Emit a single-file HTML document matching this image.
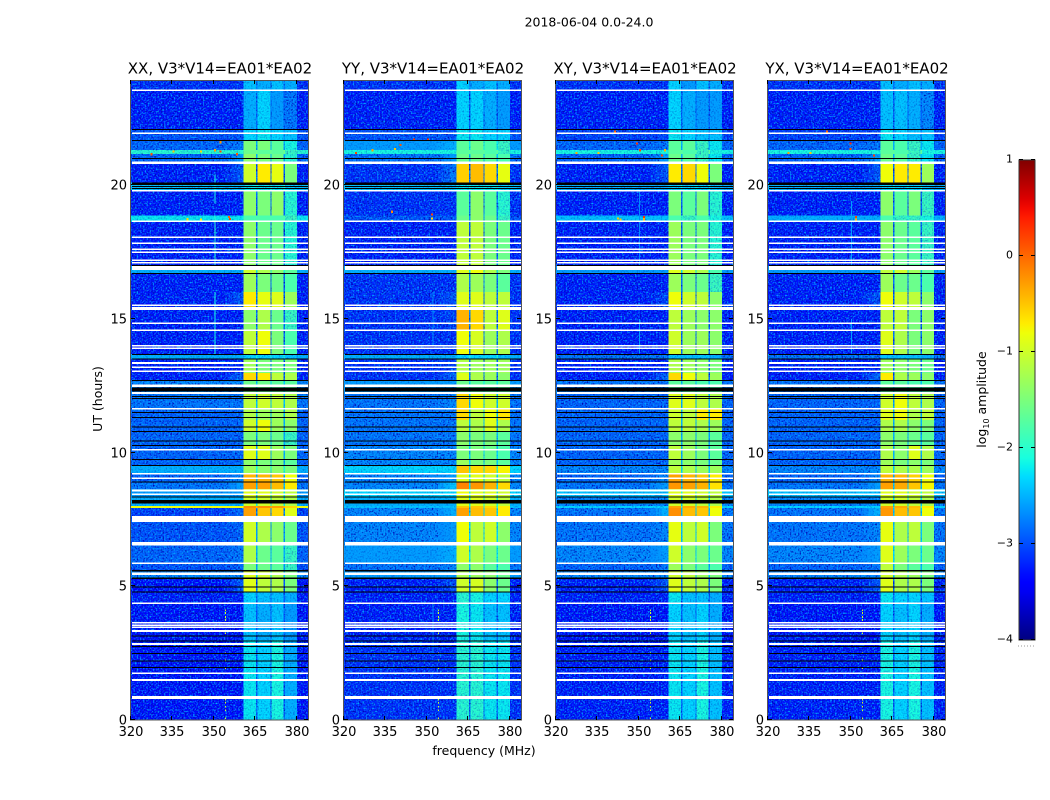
<!DOCTYPE html>
<html lang="en">
<head>
<meta charset="utf-8">
<title>2018-06-04 spectrogram</title>
<style>
html,body{margin:0;padding:0;background:#fff;}
svg{display:block;}
text{font-family:"DejaVu Sans","Liberation Sans",sans-serif;fill:#000;}
</style>
</head>
<body>
<svg id="chart" xmlns="http://www.w3.org/2000/svg" width="1050" height="800" viewBox="0 0 1050 800">
  <defs>
    <!-- Decorative film grain only: it does not encode any data value. Cell colours come from the arrays in the script. -->
    <filter id="grain-dark" x="0" y="0" width="100%" height="100%" color-interpolation-filters="sRGB">
      <feTurbulence type="fractalNoise" baseFrequency="0.62" numOctaves="1" seed="4"/>
      <feColorMatrix type="matrix" values="0 0 0 0 0  0 0 0 0 0  0 0 0 0 0.68  3.2 0 0 0 -1.5"/>
    </filter>
    <filter id="grain-light" x="0" y="0" width="100%" height="100%" color-interpolation-filters="sRGB">
      <feTurbulence type="fractalNoise" baseFrequency="0.62" numOctaves="1" seed="11"/>
      <feColorMatrix type="matrix" values="0 0 0 0 0  0 0 0 0 0.66  0 0 0 0 1  0 3.2 0 0 -1.5"/>
    </filter>
    <linearGradient id="jet-gradient" x1="0" y1="1" x2="0" y2="0"></linearGradient>
  </defs>
  <text x="589" y="26.5" font-size="12.5" text-anchor="middle">2018-06-04 0.0-24.0</text>
  <text x="484" y="755" font-size="12.5" text-anchor="middle">frequency (MHz)</text>
  <text x="102" y="399" font-size="12.5" text-anchor="middle" transform="rotate(-90 102 399)">UT (hours)</text>
  <text x="986" y="399.5" font-size="12.5" text-anchor="middle" transform="rotate(-90 986 399.5)">log<tspan font-size="8" dy="3">10</tspan><tspan dy="-3"> amplitude</tspan></text>
</svg>
<script>
// ---- Categories and tick labels ----
const panelTitles = ["XX, V3*V14=EA01*EA02", "YY, V3*V14=EA01*EA02", "XY, V3*V14=EA01*EA02", "YX, V3*V14=EA01*EA02"];
const frequencyTicks = [320, 335, 350, 365, 380];
const timeTicks = [0, 5, 10, 15, 20];
const colorbarTicks = [-4, -3, -2, -1, 0, 1];

// Frequency column edges, MHz: background, shoulder (3 steps), band 1, gap, band 2, gap, band 3, gap, band 4, upper
const frequencyEdges = [320, 354, 356.2, 358.4, 360.6, 365.2, 365.8, 370.4, 370.8, 375.1, 375.6, 380, 384];

// Time row edges, hours UT (top to bottom)
const timeEdges = [23.93, 23.51, 22.09, 21.68, 21.31, 21.16, 20.79, 20.09, 19.81, 18.86, 18.62, 16.97, 16.71, 16, 15.33, 14.58, 13.68, 13.5, 12.97, 12.71, 12.19, 11.66, 11.21, 10.77, 10.24, 9.72, 9.5, 9.23, 8.9, 8.64, 8.34, 8, 7.92, 7.63, 7.4, 6.54, 5.87, 5.61, 5.31, 4.79, 4.37, 2.99, 0];

// log10 amplitude per time row: [background, shoulder, band1, band2, band3, band4]
const levelsXX = [
[-3.2,-3.2,-2.4,-2.5,-2.4,-2.5],[-3.3,-3.3,-2.5,-2.3,-2.6,-2.8],[-3,-3,-2.3,-2.2,-2.3,-2.4],[-2.9,-2.8,-1.5,-1.5,-1.7,-2.1],
[-2,-2,-1.6,-1.7,-1.7,-1.9],[-2.9,-2.6,-1.4,-1.5,-1.6,-2],[-3.3,-3,-1,-0.7,-0.85,-1.5],[-2.4,-2.4,-2.2,-2.2,-2.2,-2.3],
[-3.3,-3.3,-1.4,-1.5,-1.4,-2],[-2.2,-2.2,-1.8,-1.8,-1.8,-1.9],[-3.3,-3.3,-1.4,-1.6,-1.6,-2],[-2.5,-2.5,-1,-1.2,-1.4,-1.7],
[-3.3,-3.3,-1.3,-1.5,-1.6,-1.8],[-3.3,-3,-0.7,-0.85,-0.9,-1.3],[-3.3,-3.3,-1.4,-1.2,-1.6,-1.9],[-3.3,-3.3,-1.1,-0.8,-1.5,-1.8],
[-2.5,-2.5,-2.3,-2.3,-2.3,-2.4],[-3.3,-3.3,-1.3,-1.5,-1.5,-1.5],[-3.3,-2.9,-0.6,-0.7,-1.1,-1.2],[-2.7,-2.7,-1.6,-1.6,-1.7,-1.7],
[-2.8,-2.8,-1.1,-1,-1.1,-1.2],[-2.9,-2.9,-1.2,-1.3,-1.3,-1.2],[-2.9,-2.9,-1,-0.8,-1.3,-1.4],[-2.9,-2.9,-1.5,-1.5,-1.6,-1.9],
[-2.9,-2.9,-0.9,-0.9,-1.3,-1.5],[-2.9,-2.9,-1.4,-1.5,-1.5,-1.7],[-2.5,-2.5,-1.3,-1.4,-1.4,-1.5],[-2.9,-2.7,-0.4,-0.4,-0.5,-0.8],
[-2.8,-2.6,-0.3,-0.3,-0.45,-0.7],[-2.6,-2.6,-0.9,-0.9,-1,-1.1],[-2.5,-2.5,-1,-1,-1.1,-1.2],[-0.8,-0.8,-0.2,-0.2,-0.3,-0.6],
[-3.1,-2.9,-0.3,-0.5,-0.6,-0.9],[-3,-3,-1,-1,-1.2,-1.4],[-3,-2.9,-1,-1.2,-1.4,-1.6],[-2.9,-2.8,-1.2,-1.6,-1.7,-1.9],
[-3,-2.9,-1.5,-1.6,-1.7,-1.9],[-2.7,-2.7,-0.9,-1,-1.2,-1.5],[-3.4,-3,-0.9,-1.1,-1.2,-1.5],[-3.3,-3.3,-2.3,-2.4,-2.4,-2.5],
[-3.35,-3.35,-2.4,-2.5,-2.4,-2.6],[-3.35,-3.35,-2.2,-2.3,-2.1,-2.5]];
const levelsYY = [
[-3.2,-3.2,-2.3,-2.5,-2.4,-2.5],[-3.3,-3.3,-2.3,-2.3,-2.5,-2.6],[-3,-3,-2.2,-2.2,-2.3,-2.3],[-2.6,-2.5,-1.7,-1.6,-1.8,-1.9],
[-2.1,-2.1,-1.7,-1.7,-1.8,-1.9],[-2.8,-2.6,-1.6,-1.6,-1.7,-1.8],[-3.2,-2.8,-0.55,-0.45,-0.6,-0.85],[-2.4,-2.4,-2.2,-2.2,-2.2,-2.3],
[-3.2,-3.2,-1.7,-1.4,-1.7,-2],[-3,-3,-1.6,-1.4,-1.6,-1.9],[-3.3,-3.3,-1.1,-1.1,-1.5,-1.6],[-2.5,-2.5,-0.9,-0.8,-1.2,-1.5],
[-3.2,-3.2,-1.2,-1.3,-1.5,-1.7],[-3.2,-3,-0.9,-0.9,-1.1,-1.1],[-3.2,-3.1,-0.4,-0.6,-1.1,-0.9],[-3.2,-3.2,-0.8,-0.95,-1.3,-1.2],
[-2.5,-2.5,-2.3,-2.3,-2.3,-2.4],[-3.2,-3.1,-1.2,-1.3,-1.3,-1.3],[-3.2,-2.9,-0.9,-1.2,-1.3,-1.4],[-2.6,-2.6,-1.6,-1.7,-1.7,-1.7],
[-2.8,-2.7,-0.6,-0.8,-1,-1],[-2.8,-2.8,-0.6,-1.1,-0.8,-0.65],[-2.8,-2.8,-1.1,-1.2,-0.9,-1.2],[-2.8,-2.8,-1.4,-1.5,-1.5,-1.7],
[-2.7,-2.7,-1.5,-1.5,-1.6,-1.8],[-2.7,-2.7,-1.3,-1.5,-1.5,-1.7],[-2.3,-2.3,-0.5,-0.6,-0.6,-0.75],[-2.7,-2.6,-0.9,-0.9,-1,-1.1],
[-2.7,-2.4,-0.15,-0.25,-0.4,-0.6],[-2.3,-2.3,-0.8,-0.9,-0.9,-1],[-2.5,-2.5,-0.9,-0.9,-1,-1.1],[-2.4,-2.4,-0.5,-0.5,-0.6,-0.7],
[-2.7,-2.5,-0.3,-0.45,-0.5,-0.7],[-2.7,-2.6,-1,-1,-1.1,-1.3],[-2.7,-2.6,-0.8,-1.1,-1,-1.4],[-2.6,-2.5,-1,-1.2,-1.5,-1.6],
[-2.8,-2.7,-1.4,-1.4,-1.7,-1.8],[-2.6,-2.6,-1.2,-1.3,-1.4,-1.6],[-3.3,-3,-1,-0.95,-1.4,-1.6],[-3.3,-3.3,-2,-2.1,-2.3,-2.3],
[-3.3,-3.3,-2.1,-2.2,-2.4,-2.4],[-3.2,-3.2,-2,-2,-2.2,-2.2]];
const levelsXY = [
[-3.2,-3.2,-2.3,-2.6,-2.4,-2.5],[-3.3,-3.3,-2.3,-2.5,-2.6,-2.6],[-3.1,-3.1,-2.2,-2.3,-2.4,-2.4],[-2.9,-2.8,-1.7,-1.7,-1.9,-2.2],
[-2.1,-2.1,-1.7,-1.8,-1.9,-2.1],[-2.9,-2.6,-1.6,-1.7,-1.9,-2.2],[-3.3,-3,-0.7,-0.6,-0.8,-1.5],[-2.5,-2.5,-2.3,-2.3,-2.3,-2.4],
[-3.3,-3.3,-1.5,-1.7,-1.5,-2],[-2.4,-2.4,-1.8,-1.9,-1.8,-2.1],[-3.3,-3.3,-1.3,-1.5,-1.5,-2],[-2.6,-2.6,-0.9,-1,-1.2,-1.8],
[-3.3,-3.3,-1.3,-1.5,-1.6,-1.9],[-3.3,-3.1,-0.8,-1,-1.1,-1.4],[-3.3,-3.3,-1.1,-1.3,-1.4,-1.4],[-3.3,-3.3,-1,-1.3,-1.3,-1.4],
[-2.8,-2.8,-2.4,-2.4,-2.4,-2.5],[-3.3,-3.3,-1.2,-1.3,-1.4,-1.5],[-3.3,-2.9,-0.6,-0.8,-1.1,-1.3],[-2.8,-2.8,-1.7,-1.7,-1.8,-1.8],
[-2.9,-2.9,-0.9,-0.9,-1.1,-1.2],[-2.9,-2.9,-1,-1.1,-0.7,-0.7],[-2.9,-2.9,-1.1,-1.1,-1.2,-1.3],[-2.9,-2.9,-1.4,-1.4,-1.5,-1.7],
[-2.9,-2.9,-1.1,-1.3,-1.5,-1.7],[-2.9,-2.9,-1.3,-1.4,-1.5,-1.6],[-2.7,-2.7,-1.1,-1.2,-1.3,-1.3],[-2.9,-2.7,-0.3,-0.4,-0.5,-0.7],
[-2.8,-2.6,-0.25,-0.3,-0.4,-0.65],[-2.4,-2.4,-0.9,-0.9,-1,-1.1],[-2.7,-2.7,-1,-1,-1.1,-1.2],[-2.3,-2.3,-0.3,-0.35,-0.4,-0.7],
[-2.8,-2.5,-0.2,-0.45,-0.5,-0.8],[-2.8,-2.7,-1,-1,-1.1,-1.3],[-2.8,-2.7,-0.85,-1.1,-1,-1.5],[-2.7,-2.6,-1,-1.4,-1.5,-1.6],
[-2.9,-2.8,-1.3,-1.5,-1.7,-1.8],[-2.7,-2.7,-1,-1.1,-1.3,-1.5],[-3.3,-3,-0.9,-1.1,-1.2,-1.5],[-3.3,-3.3,-2.2,-2.4,-2.4,-2.5],
[-3.35,-3.35,-2.3,-2.4,-2.3,-2.5],[-3.3,-3.3,-2.2,-2.3,-2.1,-2.4]];
const levelsYX = [
[-3.2,-3.2,-2.4,-2.5,-2.4,-2.5],[-3.3,-3.3,-2.4,-2.4,-2.5,-2.7],[-3.1,-3.1,-2.2,-2.3,-2.4,-2.4],[-2.9,-2.8,-1.7,-1.8,-1.9,-2.2],
[-2.1,-2.1,-1.7,-1.8,-1.9,-2.1],[-2.9,-2.6,-1.6,-1.7,-1.9,-2.2],[-3.3,-3,-0.8,-0.7,-0.7,-1.3],[-2.5,-2.5,-2.3,-2.3,-2.3,-2.4],
[-3.3,-3.3,-1.4,-1.7,-1.5,-1.9],[-2.5,-2.5,-1.8,-1.9,-1.9,-2.1],[-3.3,-3.3,-1.4,-1.6,-1.7,-1.9],[-2.6,-2.6,-1.1,-1,-1.3,-1.7],
[-3.3,-3.3,-1.3,-1.6,-1.6,-1.8],[-3.3,-3,-0.8,-1,-1.1,-1.4],[-3.3,-3.3,-1.1,-1.1,-1.5,-1.4],[-3.3,-3.3,-0.9,-1.2,-1.5,-1.4],
[-2.8,-2.8,-2.4,-2.4,-2.4,-2.5],[-3.3,-3.3,-1.3,-1.4,-1.5,-1.6],[-3.3,-2.9,-0.7,-1.2,-1.3,-1.4],[-2.8,-2.8,-1.7,-1.7,-1.8,-1.8],
[-2.9,-2.9,-1,-0.8,-1.1,-1.2],[-2.9,-2.9,-0.9,-0.8,-1.2,-1.1],[-2.9,-2.9,-1.2,-1.2,-1.4,-1.5],[-2.9,-2.9,-1.4,-1.5,-1.6,-1.7],
[-2.9,-2.9,-1.2,-1.4,-0.9,-1.2],[-2.9,-2.9,-1.3,-1.5,-1.4,-1.5],[-2.7,-2.7,-1.1,-1.2,-1.2,-1.3],[-2.9,-2.7,-0.4,-0.4,-0.55,-0.8],
[-2.8,-2.6,-0.3,-0.35,-0.5,-0.75],[-2.4,-2.4,-0.9,-0.9,-1,-1.1],[-2.7,-2.7,-1,-1,-1.1,-1.2],[-2.3,-2.3,-0.3,-0.35,-0.45,-0.7],
[-2.8,-2.5,-0.25,-0.45,-0.5,-0.8],[-2.8,-2.7,-1,-1,-1.1,-1.3],[-2.8,-2.7,-0.85,-1.2,-1.1,-1.5],[-2.7,-2.6,-0.9,-1.3,-1.5,-1.6],
[-2.9,-2.8,-1.1,-1.5,-1.7,-1.8],[-2.7,-2.7,-1,-1.2,-1.3,-1.5],[-3.3,-3,-0.9,-1.2,-1.2,-1.5],[-3.3,-3.3,-2.2,-2.3,-2.3,-2.4],
[-3.35,-3.35,-2.3,-2.4,-2.3,-2.5],[-3.3,-3.3,-2.1,-2.3,-2.1,-2.4]];

// Rows with no data, [start, end] in hours, shared by all four panels
const whiteRows = [[23.57,23.51],[21.96,21.9],[20.88,20.79],[19.81,19.76],[18.67,18.62],[18.07,18.02],[17.85,17.79],[17.63,17.57],[17.51,17.46],[17.21,17.16],[17.12,17.07],[16.97,16.82],[15.53,15.48],[15.44,15.33],[14.86,14.8],[14.6,14.54],[14.02,13.96],[13.93,13.87],[13.38,13.31],[13.21,13.16],[13.07,13.01],[12.54,12.45],[12.26,12.19],[11.66,11.61],[10.13,10.07],[9.23,9.18],[9.07,9.01],[8.62,8.54],[8.47,8.41],[7.63,7.4],[6.65,6.52],[5.89,5.83],[5.51,5.42],[4.39,4.34],[3.66,3.61],[3.57,3.51],[3.5,3.44],[3.36,3.29],[2.88,2.8],[1.78,1.72],[1.53,1.46],[0.9,0.79]];
const blackRows = [[22.09,22.06],[21.68,21.64],[21.01,20.97],[20.09,20],[19.96,19.93],[19.89,19.85],[17.01,16.97],[16.71,16.67],[13.68,13.64],[13.51,13.48],[12.71,12.67],[12.43,12.28],[12.11,12.07],[12.04,12],[11.51,11.48],[11.33,11.29],[10.97,10.93],[10.8,10.77],[10.45,10.41],[10.28,10.24],[9.76,9.72],[9.53,9.5],[8.92,8.88],[8.36,8.32],[8.22,8.09],[5.61,5.55],[5.33,5.27],[4.99,4.95],[4.8,4.77],[3.16,3.12],[2.97,2.93],[2.77,2.73],[2.5,2.47],[2.22,2.19],[1.98,1.94]];

// Narrow-band interference: vertical lines [frequency MHz, start h, end h, level]
const rfiLinesXX = [[350.2,19.3,20.4,-2.1],[350.2,16.97,18.86,-2],[350.2,13.68,16,-2.1]];
const rfiLinesYY = [[352,14,16,-2.7],[352,2.5,4.4,-2.7]];
const rfiLinesXY = [[350,16.7,20,-2.7],[350,13.7,15,-2.6]];
const rfiLinesYX = [[350,16.7,19.4,-2.6],[350,13.7,15,-2.6]];
// Dotted interference times in hours, all at rfiDotFrequency
const rfiDotTimes = [4.11,4,3.85,3.74,3.63,3.25,2.5,2.24,1.94,0.75,0.64,0.49,0.37,0.07];
const rfiDotFrequency = 354;
const rfiDotLevel = -1;
// Hot spots: [frequency MHz, time h, level]
const hotSpotsXX = [[355.5,18.73,0.2],[355,18.8,0],[340,18.72,-0.6],[345,18.7,-0.7],[352,21.25,0.2],[350,21.3,-0.3],[335,21.25,-0.5],[327,21.15,0.1],[352,21.6,-0.2],[345,21.25,-0.6],[358,21.15,0.1]];
const hotSpotsYY = [[351.5,18.9,0.2],[351.5,18.75,-0.6],[337,19,-0.2],[337,18.65,-0.7],[330,21.3,-0.3],[345,21.7,0.3],[350,21.7,0.3],[338,21.35,-0.5],[324,21.2,0.2],[340,21.5,0.1]];
const hotSpotsXY = [[351.5,18.8,0.3],[351.5,18.72,-0.4],[342,18.75,-0.5],[343,18.7,-0.5],[349,21.55,0.3],[350,21.3,0.2],[341,22,0],[335,21.2,-0.5],[327,21.2,-0.3],[358,21.1,0.2],[359,21.3,-0.4]];
const hotSpotsYX = [[351.5,18.8,0.2],[351.5,18.7,-0.4],[349.5,21.55,0.3],[349.5,21.35,0.2],[341,22,0],[335,21.2,-0.5],[327,21.2,-0.3],[358,21.1,0.2]];

const panelLevels = [levelsXX, levelsYY, levelsXY, levelsYX];
const panelLines = [rfiLinesXX, rfiLinesYY, rfiLinesXY, rfiLinesYX];
const panelSpots = [hotSpotsXX, hotSpotsYY, hotSpotsXY, hotSpotsYX];
const panelNames = ['xx', 'yy', 'xy', 'yx'];
const panelLefts = [131, 344, 556, 768];

// ---- Axis functions ----
const PANEL_W = 177, TOP = 80, BOTTOM = 720, PX_PER_HOUR = 26.75, PX_PER_MHZ = 2.766;
const xScale = (mhz, left) => left + (mhz - 320) * PX_PER_MHZ;
const yScale = hours => BOTTOM - hours * PX_PER_HOUR;
const CB_TOP = 160, CB_BOTTOM = 640, CB_LEFT = 1019, CB_W = 16;
const cbScale = v => CB_BOTTOM - (v + 4) / 5 * (CB_BOTTOM - CB_TOP);

function segment(x, pts) {
  for (let i = 1; i < pts.length; i++) {
    if (x <= pts[i][0]) {
      const a = pts[i - 1], b = pts[i];
      return a[1] + (b[1] - a[1]) * (x - a[0]) / (b[0] - a[0]);
    }
  }
  return pts[pts.length - 1][1];
}
function jet(level) {
  const f = Math.max(0, Math.min(1, (level + 4) / 5));
  const r = segment(f, [[0,0],[0.35,0],[0.66,1],[0.89,1],[1,0.5]]);
  const g = segment(f, [[0,0],[0.125,0],[0.375,1],[0.64,1],[0.91,0],[1,0]]);
  const b = segment(f, [[0,0.5],[0.11,1],[0.34,1],[0.65,0],[1,0]]);
  return 'rgb(' + Math.round(r * 255) + ',' + Math.round(g * 255) + ',' + Math.round(b * 255) + ')';
}

const NS = 'http://www.w3.org/2000/svg';
const chart = document.getElementById('chart');
function make(tag, parent, props) {
  const el = document.createElementNS(NS, tag);
  for (const k in props) el.setAttribute(k, props[k]);
  parent.appendChild(el);
  return el;
}
function cell(parent, x0, x1, t0, t1, fill) {
  return make('rect', parent, {x: x0, y: yScale(t0), width: x1 - x0, height: yScale(t1) - yScale(t0), fill: fill, 'shape-rendering': 'crispEdges'});
}

// Column index in frequencyEdges -> value in a level row
function columnLevel(row, col) {
  const gap = row[0] + 0.4;
  const step = (row[1] - row[0]) / 3;
  return [row[0], row[0] + step, row[0] + 2 * step, row[1], row[2], gap, row[3], gap, row[4], gap, row[5], row[0]][col];
}

panelTitles.forEach((title, p) => {
  const left = panelLefts[p];
  const right = left + PANEL_W;
  const name = panelNames[p];

  const panel = make('g', chart, {});
  
  

  const clipId = 'clip-' + name;
  const clip = make('clipPath', panel, {id: clipId});
  make('rect', clip, {x: left, y: TOP, width: PANEL_W, height: BOTTOM - TOP});

  const heat = make('g', panel, {'clip-path': 'url(#' + clipId + ')'});
  
  

  const baseLayer = make('g', heat, {});
  
  

  const grainDark = make('rect', heat, {x: left, y: TOP, width: PANEL_W, height: BOTTOM - TOP, filter: 'url(#grain-dark)'});
  
  
  const grainLight = make('rect', heat, {x: left, y: TOP, width: PANEL_W, height: BOTTOM - TOP, filter: 'url(#grain-light)'});
  
  

  // Mid-level cells get the grain softened, bright cells have it hidden
  const midLayer = make('g', heat, {opacity: 0.6});
  
  

  const brightLayer = make('g', heat, {});
  
  

  panelLevels[p].forEach((row, r) => {
    for (let c = 0; c < frequencyEdges.length - 1; c++) {
      const level = columnLevel(row, c);
      const x0 = xScale(frequencyEdges[c], left);
      const x1 = xScale(frequencyEdges[c + 1], left);
      const rect = cell(baseLayer, x0, x1, timeEdges[r], timeEdges[r + 1], jet(level));
      
      
      if (level > -2.7) {
        const top = cell(level > -1.9 ? brightLayer : midLayer, x0, x1, timeEdges[r], timeEdges[r + 1], jet(level));
        
        
      }
    }
  });

  panelLines[p].forEach(line => {
    const rect = cell(heat, xScale(line[0], left), xScale(line[0], left) + 1, line[2], line[1], jet(line[3]));
    
    
  });
  rfiDotTimes.forEach(t => {
    const rect = cell(heat, xScale(rfiDotFrequency, left), xScale(rfiDotFrequency, left) + 1, t + 0.03, t - 0.03, jet(rfiDotLevel));
    
    
  });
  panelSpots[p].forEach(spot => {
    const rect = cell(heat, xScale(spot[0], left), xScale(spot[0], left) + 2, spot[1] + 0.04, spot[1] - 0.04, jet(spot[2]));
    
    
  });

  whiteRows.forEach(row => {
    const rect = cell(heat, left + 1, right, row[0], row[1], '#ffffff');
    
    
  });
  blackRows.forEach(row => {
    const rect = cell(heat, left + 1, right, row[0], row[1], '#000000');
    
    
  });

  const frame = make('rect', panel, {x: left - 0.5, y: TOP + 0.5, width: PANEL_W + 1, height: BOTTOM - TOP - 0.5, fill: 'none', stroke: '#555', 'stroke-width': 1});
  
  

  const heading = make('text', panel, {x: left + PANEL_W / 2 + 0.5, y: 73.5, 'font-size': 15, 'text-anchor': 'middle'});
  heading.textContent = title;
  
  

  frequencyTicks.forEach(f => {
    const x = Math.round(xScale(f, left)) - 0.5;
    const tb = make('line', panel, {x1: x, x2: x, y1: BOTTOM, y2: BOTTOM - 4, stroke: '#000', 'stroke-width': 1});
    
    
    const tt = make('line', panel, {x1: x, x2: x, y1: TOP, y2: TOP + 4, stroke: '#000', 'stroke-width': 1});
    
    
    const label = make('text', panel, {x: x + 0.5, y: 736, 'font-size': 13, 'text-anchor': 'middle'});
    label.textContent = String(f);
    
    
  });
  timeTicks.forEach(t => {
    const y = Math.round(yScale(t)) - 0.5;
    const tl = make('line', panel, {x1: left, x2: left + 4, y1: y, y2: y, stroke: '#000', 'stroke-width': 1});
    
    
    const tr = make('line', panel, {x1: right - 4, x2: right, y1: y, y2: y, stroke: '#000', 'stroke-width': 1});
    
    
    const label = make('text', panel, {x: left - 4, y: y + 5, 'font-size': 13, 'text-anchor': 'end'});
    label.textContent = String(t);
    
    
  });
});

// ---- Colorbar ----
const gradient = document.getElementById('jet-gradient');
colorbarTicks.slice(0, -1).forEach((tick) => {
  for (let s = 0; s < 10; s++) {
    const level = tick + s / 10;
    make('stop', gradient, {offset: (level + 4) / 5, 'stop-color': jet(level)});
  }
});
make('stop', gradient, {offset: 1, 'stop-color': jet(1)});

const colorbar = make('g', chart, {});


const ramp = make('rect', colorbar, {x: CB_LEFT, y: CB_TOP, width: CB_W, height: CB_BOTTOM - CB_TOP, fill: 'url(#jet-gradient)', stroke: '#333', 'stroke-width': 1});


colorbarTicks.forEach(v => {
  const y = Math.round(cbScale(v)) - 0.5;
  const tl = make('line', colorbar, {x1: CB_LEFT, x2: CB_LEFT + 4, y1: y, y2: y, stroke: '#000', 'stroke-width': 1});
  
  
  const tr = make('line', colorbar, {x1: CB_LEFT + CB_W - 4, x2: CB_LEFT + CB_W, y1: y, y2: y, stroke: '#000', 'stroke-width': 1});
  
  
  const label = make('text', colorbar, {x: CB_LEFT - 6, y: y + 3, 'font-size': 11, 'text-anchor': 'end'});
  label.textContent = String(v).replace('-', '\u2212');
  
  
});
const dots = make('line', colorbar, {x1: CB_LEFT - 1, x2: CB_LEFT + CB_W, y1: 646, y2: 646, stroke: '#999', 'stroke-width': 1, 'stroke-dasharray': '1 2'});


</script>
</body>
</html>
